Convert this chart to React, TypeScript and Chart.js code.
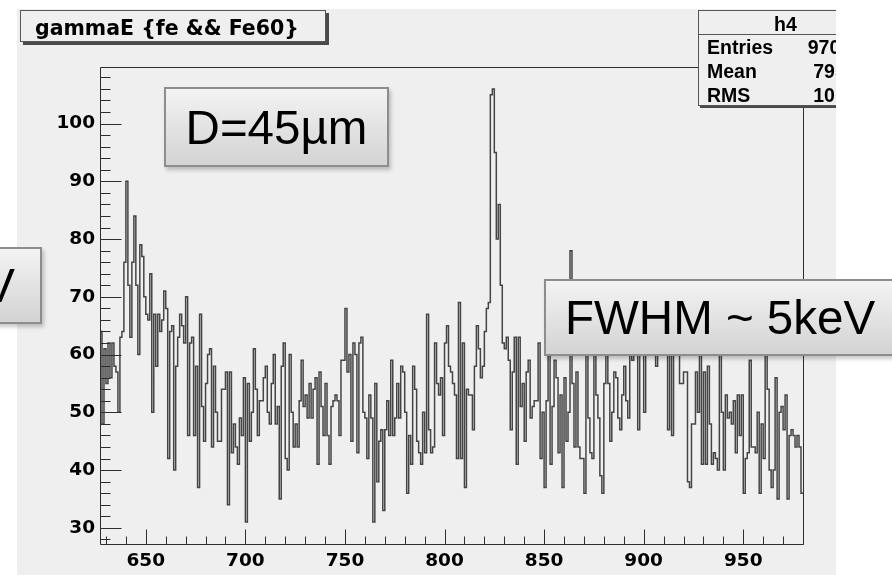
import React, { useEffect, useRef } from "react";
import { Chart, registerables } from "chart.js";

Chart.register(...registerables);

// ---- histogram binning (keV) ----
const binLow = 627;
const binWidth = 1;
const xMin = 627;
const xMax = 980;
const yMin = 27.2;
const yMax = 109.8;

// ---- bin contents, 1 keV per bin ----
const counts627to686 = [
  64, 48, 61, 55, 62, 56, 62, 58, 57, 50,
  63, 64, 76, 90, 72, 63, 76, 84, 72, 60,
  79, 77, 70, 67, 66, 74, 50, 67, 58, 67,
  64, 66, 71, 68, 42, 64, 65, 40, 58, 63,
  67, 65, 62, 70, 46, 62, 63, 46, 58, 37,
  67, 51, 45, 55, 60, 61, 44, 58, 50, 45,
];
const counts687to745 = [
  45, 54, 54, 57, 34, 57, 43, 48, 44, 41,
  49, 46, 56, 31, 55, 45, 50, 61, 54, 46,
  52, 52, 56, 58, 50, 48, 55, 60, 48, 51,
  35, 58, 62, 42, 40, 60, 50, 44, 48, 44,
  52, 59, 51, 53, 49, 55, 49, 54, 56, 41,
  57, 51, 46, 55, 46, 41, 51, 52, 53,
];
const counts746to806 = [
  52, 46, 59, 59, 68, 57, 60, 45, 62, 60,
  43, 62, 63, 50, 49, 42, 53, 49, 31, 55,
  38, 45, 47, 33, 47, 52, 46, 59, 46, 49,
  55, 49, 58, 57, 50, 36, 46, 41, 58, 54,
  45, 43, 41, 50, 43, 67, 47, 43, 44, 62,
  55, 53, 56, 46, 62, 65, 58, 57, 55, 53,
  42,
];
const counts807to866 = [
  69, 42, 62, 37, 54, 53, 53, 47, 58, 65,
  61, 56, 58, 64, 68, 69, 105, 106, 95, 80,
  86, 72, 62, 61, 63, 59, 47, 57, 63, 41,
  63, 51, 55, 45, 57, 59, 49, 51, 52, 52,
  62, 42, 50, 37, 52, 60, 41, 51, 59, 56,
  43, 53, 37, 56, 45, 50, 78, 55, 44, 57,
];
const counts867to926 = [
  44, 42, 42, 36, 62, 49, 43, 42, 62, 53,
  49, 39, 36, 55, 62, 55, 45, 50, 57, 56,
  49, 47, 53, 58, 52, 49, 62, 59, 66, 70,
  47, 64, 66, 50, 60, 68, 62, 64, 60, 58,
  63, 66, 61, 64, 68, 47, 62, 46, 65, 60,
  62, 55, 55, 57, 57, 38, 37, 48, 48, 57,
];
const counts927to979 = [
  50, 62, 41, 57, 41, 58, 48, 41, 43, 42,
  40, 62, 50, 40, 53, 49, 50, 48, 52, 43,
  53, 46, 53, 36, 42, 43, 59, 44, 44, 43,
  50, 36, 48, 42, 62, 54, 40, 37, 40, 56,
  35, 50, 51, 47, 53, 35, 46, 47, 46, 44,
  46, 44, 36,
];

const xTickLabels = [650, 700, 750, 800, 850, 900, 950];
const yTickLabels = [30, 40, 50, 60, 70, 80, 90, 100];
const xMinorStep = 10;
const yMinorStep = 2;

const titleText = "gammaE {fe && Fe60}";
const statsName = "h4";
const statsLabels = ["Entries", "Mean", "RMS"];
const statsValues = ["97063", "795.6", "101.2"];
const noteD = "D=45\u00b5m";
const noteFwhm = "FWHM ~ 5keV";
const noteLeft = "keV";

const counts = [
  ...counts627to686,
  ...counts687to745,
  ...counts746to806,
  ...counts807to866,
  ...counts867to926,
  ...counts927to979,
];

const rootFrame = {
  id: "rootFrame",
  afterDatasetsDraw(chart: any) {
    const { ctx, chartArea: a, scales } = chart;
    const x = scales.x;
    const y = scales.y;
    const L = Math.round(a.left) + 0.5;
    const R = Math.round(a.right) + 0.5;
    const T = Math.round(a.top) + 0.5;
    const B = Math.round(a.bottom) + 0.5;
    ctx.save();
    ctx.strokeStyle = "#2e2e2e";
    ctx.lineWidth = 1;
    ctx.beginPath();
    ctx.moveTo(L, T);
    ctx.lineTo(R, T);
    ctx.lineTo(R, B);
    ctx.lineTo(L, B);
    ctx.closePath();
    const yStart = Math.ceil(yMin / yMinorStep) * yMinorStep;
    for (let v = yStart; v <= yMax; v += yMinorStep) {
      const py = Math.round(y.getPixelForValue(v)) + 0.5;
      const len = yTickLabels.includes(v) ? 21 : 10;
      ctx.moveTo(L, py);
      ctx.lineTo(L + len, py);
    }
    const xStart = Math.ceil(xMin / xMinorStep) * xMinorStep;
    for (let v = xStart; v <= xMax; v += xMinorStep) {
      const px = Math.round(x.getPixelForValue(v)) + 0.5;
      const len = xTickLabels.includes(v) ? 15 : 8;
      ctx.moveTo(px, B);
      ctx.lineTo(px, B - len);
    }
    ctx.stroke();
    ctx.restore();
  },
};

const noteBox: React.CSSProperties = {
  position: "absolute",
  boxSizing: "border-box",
  border: "2px solid #8d8d8d",
  background: "linear-gradient(#f3f3f3, #d3d3d3)",
  boxShadow: "2px 3px 4px rgba(0,0,0,0.22)",
  display: "flex",
  alignItems: "center",
  fontFamily: '"Liberation Sans", Arial, sans-serif',
  fontSize: 47.5,
  color: "#000",
  whiteSpace: "nowrap",
  overflow: "hidden",
};

export default function App() {
  const canvasRef = useRef<HTMLCanvasElement | null>(null);

  useEffect(() => {
    const canvas = canvasRef.current;
    if (!canvas) return;
    const pts = counts.map((c, i) => ({ x: binLow + i * binWidth, y: c }));
    pts.push({ x: binLow + counts.length * binWidth, y: counts[counts.length - 1] });

    const tickFont = { family: '"DejaVu Sans", sans-serif', weight: "bold" as const, size: 18.5 };

    const chart = new Chart(canvas, {
      type: "line",
      data: {
        datasets: [
          {
            data: pts,
            stepped: true,
            borderColor: "#454545",
            borderWidth: 1.5,
            pointRadius: 0,
            fill: false,
          },
        ],
      },
      options: {
        animation: false,
        responsive: false,
        devicePixelRatio: 1,
        layout: { padding: { left: 40, right: 89, top: 67, bottom: 0 } },
        plugins: { legend: { display: false }, tooltip: { enabled: false }, title: { display: false } },
        scales: {
          x: {
            type: "linear",
            min: xMin,
            max: xMax,
            grid: { display: false, drawTicks: false },
            border: { display: false },
            ticks: {
              stepSize: 50,
              includeBounds: false,
              font: tickFont,
              color: "#000",
              padding: 6,
              maxRotation: 0,
              autoSkip: false,
              callback: (v: any) => (xTickLabels.includes(Number(v)) ? String(v) : ""),
            },
            afterFit: (s: any) => {
              s.height = 31;
            },
          },
          y: {
            type: "linear",
            min: yMin,
            max: yMax,
            grid: { display: false, drawTicks: false },
            border: { display: false },
            ticks: {
              stepSize: 10,
              includeBounds: false,
              font: tickFont,
              color: "#000",
              padding: 5,
              autoSkip: false,
              callback: (v: any) => (yTickLabels.includes(Number(v)) ? String(v) : ""),
            },
            afterFit: (s: any) => {
              s.width = 60;
            },
          },
        },
      },
      plugins: [rootFrame],
    });
    return () => chart.destroy();
  }, []);

  return (
    <div
      style={{
        position: "absolute",
        left: 0,
        top: 0,
        width: 892,
        height: 575,
        overflow: "hidden",
        background: "#fff",
      }}
    >
      {/* ROOT pad background */}
      <div
        style={{ position: "absolute", left: 17, top: 9, width: 819, height: 566, background: "#efefef" }}
      />
      <canvas
        ref={canvasRef}
        width={892}
        height={575}
        style={{ position: "absolute", left: 0, top: 0, width: 892, height: 575 }}
      />
      {/* pad-clipped ROOT panes */}
      <div
        style={{ position: "absolute", left: 17, top: 9, width: 819, height: 566, overflow: "hidden" }}
      >
        {/* title pave */}
        <div
          style={{
            position: "absolute",
            left: 3,
            top: 1,
            width: 306,
            height: 32,
            boxSizing: "border-box",
            border: "1px solid #555",
            background: "#efefef",
            boxShadow: "3px 3px 0 #4a4a4a",
          }}
        >
          <div
            style={{
              position: "absolute",
              left: 14,
              top: 7,
              fontFamily: '"DejaVu Sans", sans-serif',
              fontWeight: "bold",
              fontSize: 20.5,
              lineHeight: "20.5px",
              color: "#000",
              whiteSpace: "nowrap",
            }}
          >
            {titleText}
          </div>
        </div>
        {/* stats pave */}
        <div
          style={{
            position: "absolute",
            left: 681,
            top: 1,
            width: 175,
            height: 96,
            boxSizing: "border-box",
            border: "1px solid #555",
            background: "#efefef",
            boxShadow: "2px 2px 0 #4a4a4a",
            fontFamily: '"Liberation Sans", Arial, sans-serif',
            fontWeight: "bold",
            fontSize: 19.5,
            lineHeight: "19.5px",
            color: "#000",
          }}
        >
          <div style={{ position: "absolute", left: 0, right: 0, top: 4, textAlign: "center" }}>{statsName}</div>
          <div style={{ position: "absolute", left: 0, right: 0, top: 23, borderTop: "1px solid #555" }} />
          {statsLabels.map((lab, i) => (
            <div key={lab} style={{ position: "absolute", left: 8, top: 27 + i * 24 }}>
              {lab}
            </div>
          ))}
          {statsValues.map((val, i) => (
            <div key={i} style={{ position: "absolute", right: 10, top: 27 + i * 24 }}>
              {val}
            </div>
          ))}
        </div>
      </div>
      {/* annotation boxes */}
      <div style={{ ...noteBox, left: 164, top: 87, width: 225, height: 80, justifyContent: "center" }}>
        {noteD}
      </div>
      <div style={{ ...noteBox, left: 544, top: 279, width: 380, height: 77, paddingLeft: 19 }}>{noteFwhm}</div>
      <div
        style={{
          ...noteBox,
          left: -160,
          top: 247,
          width: 202,
          height: 77,
          justifyContent: "flex-end",
          paddingRight: 25,
        }}
      >
        {noteLeft}
      </div>
    </div>
  );
}
